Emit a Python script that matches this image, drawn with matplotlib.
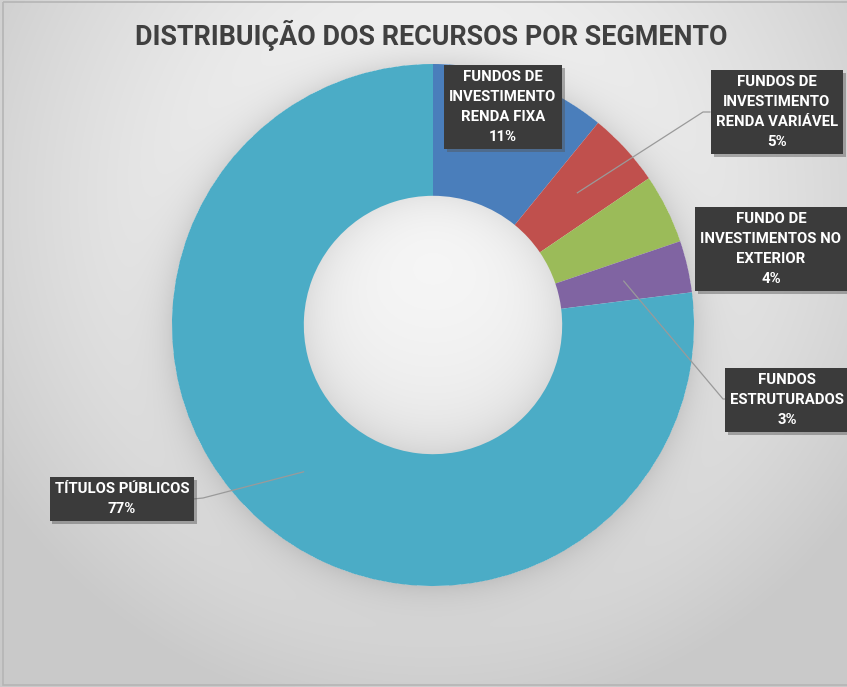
import numpy as np
import matplotlib
matplotlib.use("Agg")
import matplotlib.pyplot as plt
from matplotlib import font_manager
from matplotlib.patches import Rectangle
import matplotlib.patheffects as pe

# ---------------- data ----------------
categories = [
    "FUNDOS DE\nINVESTIMENTO\nRENDA FIXA",
    "FUNDOS DE\nINVESTIMENTO\nRENDA VARIÁVEL",
    "FUNDO DE\nINVESTIMENTOS NO\nEXTERIOR",
    "FUNDOS\nESTRUTURADOS",
    "TÍTULOS PÚBLICOS",
]
values = [10.9, 4.6, 4.3, 3.2, 77.0]
colors = ["#4A7EBB", "#C0504D", "#9BBB59", "#8064A2", "#4BACC6"]
title = "DISTRIBUIÇÃO DOS RECURSOS POR SEGMENTO"

# ---------------- fonts ----------------
names = {f.name for f in font_manager.fontManager.ttflist}
if "Liberation Sans Narrow" in names:
    FONT = ["Liberation Sans Narrow", "DejaVu Sans"]
    lab_size = 12.0
else:
    FONT = ["Roboto", "DejaVu Sans"]
    lab_size = 10.7
plt.rcParams["font.family"] = FONT

W, H = 847, 687
fig = plt.figure(figsize=(W / 100, H / 100), dpi=100)

# ---------------- background ----------------
ax_bg = fig.add_axes([0, 0, 1, 1])
ax_bg.set_xlim(0, W)
ax_bg.set_ylim(H, 0)
ax_bg.axis("off")

cx, cy, R, r_in = 433, 325, 261, 132
yy, xx = np.mgrid[0:H, 0:W] + 0.5
t = ((xx - 433) / 520) ** 2 + ((yy - 200) / 520) ** 2
t = np.clip(t, 0, 1) ** 0.8
val = 248 - 46 * t
rr = np.hypot(xx - cx, yy - cy)
outer = rr > R
val[outer] -= 26 * np.exp(-(rr[outer] - R) / 18)
inner = rr < r_in
val[inner] -= 22 * np.exp(-(r_in - rr[inner]) / 24)
img = np.clip(val, 0, 255) / 255.0
ax_bg.imshow(np.dstack([img, img, img]), extent=(0, W, H, 0), interpolation="bilinear", zorder=0)
ax_bg.add_patch(Rectangle((3, 2), W + 10, H - 4, fill=False, edgecolor="#b5b5b5", lw=1.2, zorder=1))

# ---------------- donut ----------------
ax_pie = fig.add_axes([(cx - R) / W, (H - (cy + R)) / H, 2 * R / W, 2 * R / H])
ax_pie.pie(values, colors=colors, startangle=90, counterclock=False, radius=1,
           wedgeprops=dict(width=0.505, linewidth=0))
ax_pie.set_xlim(-1, 1)
ax_pie.set_ylim(-1, 1)
ax_pie.axis("off")

# ---------------- overlay: title, labels, leaders ----------------
ax = fig.add_axes([0, 0, 1, 1])
ax.set_xlim(0, W)
ax.set_ylim(H, 0)
ax.axis("off")
ax.patch.set_alpha(0)

ttl = ax.text(431, 35, title, ha="center", va="center", fontsize=22,
              fontweight="bold", color="#404040")
fig.canvas.draw()
bb = ttl.get_window_extent()
ttl.set_fontsize(22 * 592 / bb.width)

total = sum(values)
cum = np.cumsum([0] + values[:-1])
mids = [(c + v / 2) / total * 360 for c, v in zip(cum, values)]


def anchor(i, frac=0.75):
    a = np.deg2rad(mids[i])
    p = ax_pie.transData.transform((frac * np.sin(a), frac * np.cos(a)))
    return ax.transData.inverted().transform(p)


pct = [f"{round(v / total * 100):.0f}%" for v in values]

label_pos = [(503, 107), (777, 112), (771, 249), (787, 400), (122, 499)]
leaders = {1: [(703, 112), (710, 112)],
           3: [(723, 399), (732, 399)],
           4: [(203, 498), (193, 499)]}

for i, (x, y) in enumerate(label_pos):
    if i in leaders:
        p0 = anchor(i)
        pts = np.array([p0] + leaders[i])
        ax.plot(pts[:, 0], pts[:, 1], color="#9a9a9a", lw=0.9, zorder=3)
    tx = ax.text(x, y, categories[i] + "\n" + pct[i], ha="center", va="center",
                 multialignment="center", fontsize=lab_size, fontweight="bold",
                 color="white", linespacing=1.55, zorder=5,
                 bbox=dict(boxstyle="square,pad=0.35", facecolor="#3b3b3b",
                           edgecolor="none"))
    tx.get_bbox_patch().set_path_effects([
        pe.withSimplePatchShadow(offset=(2, -2), shadow_rgbFace="#555555", alpha=0.45)])

fig.savefig("out.png", dpi=100)
